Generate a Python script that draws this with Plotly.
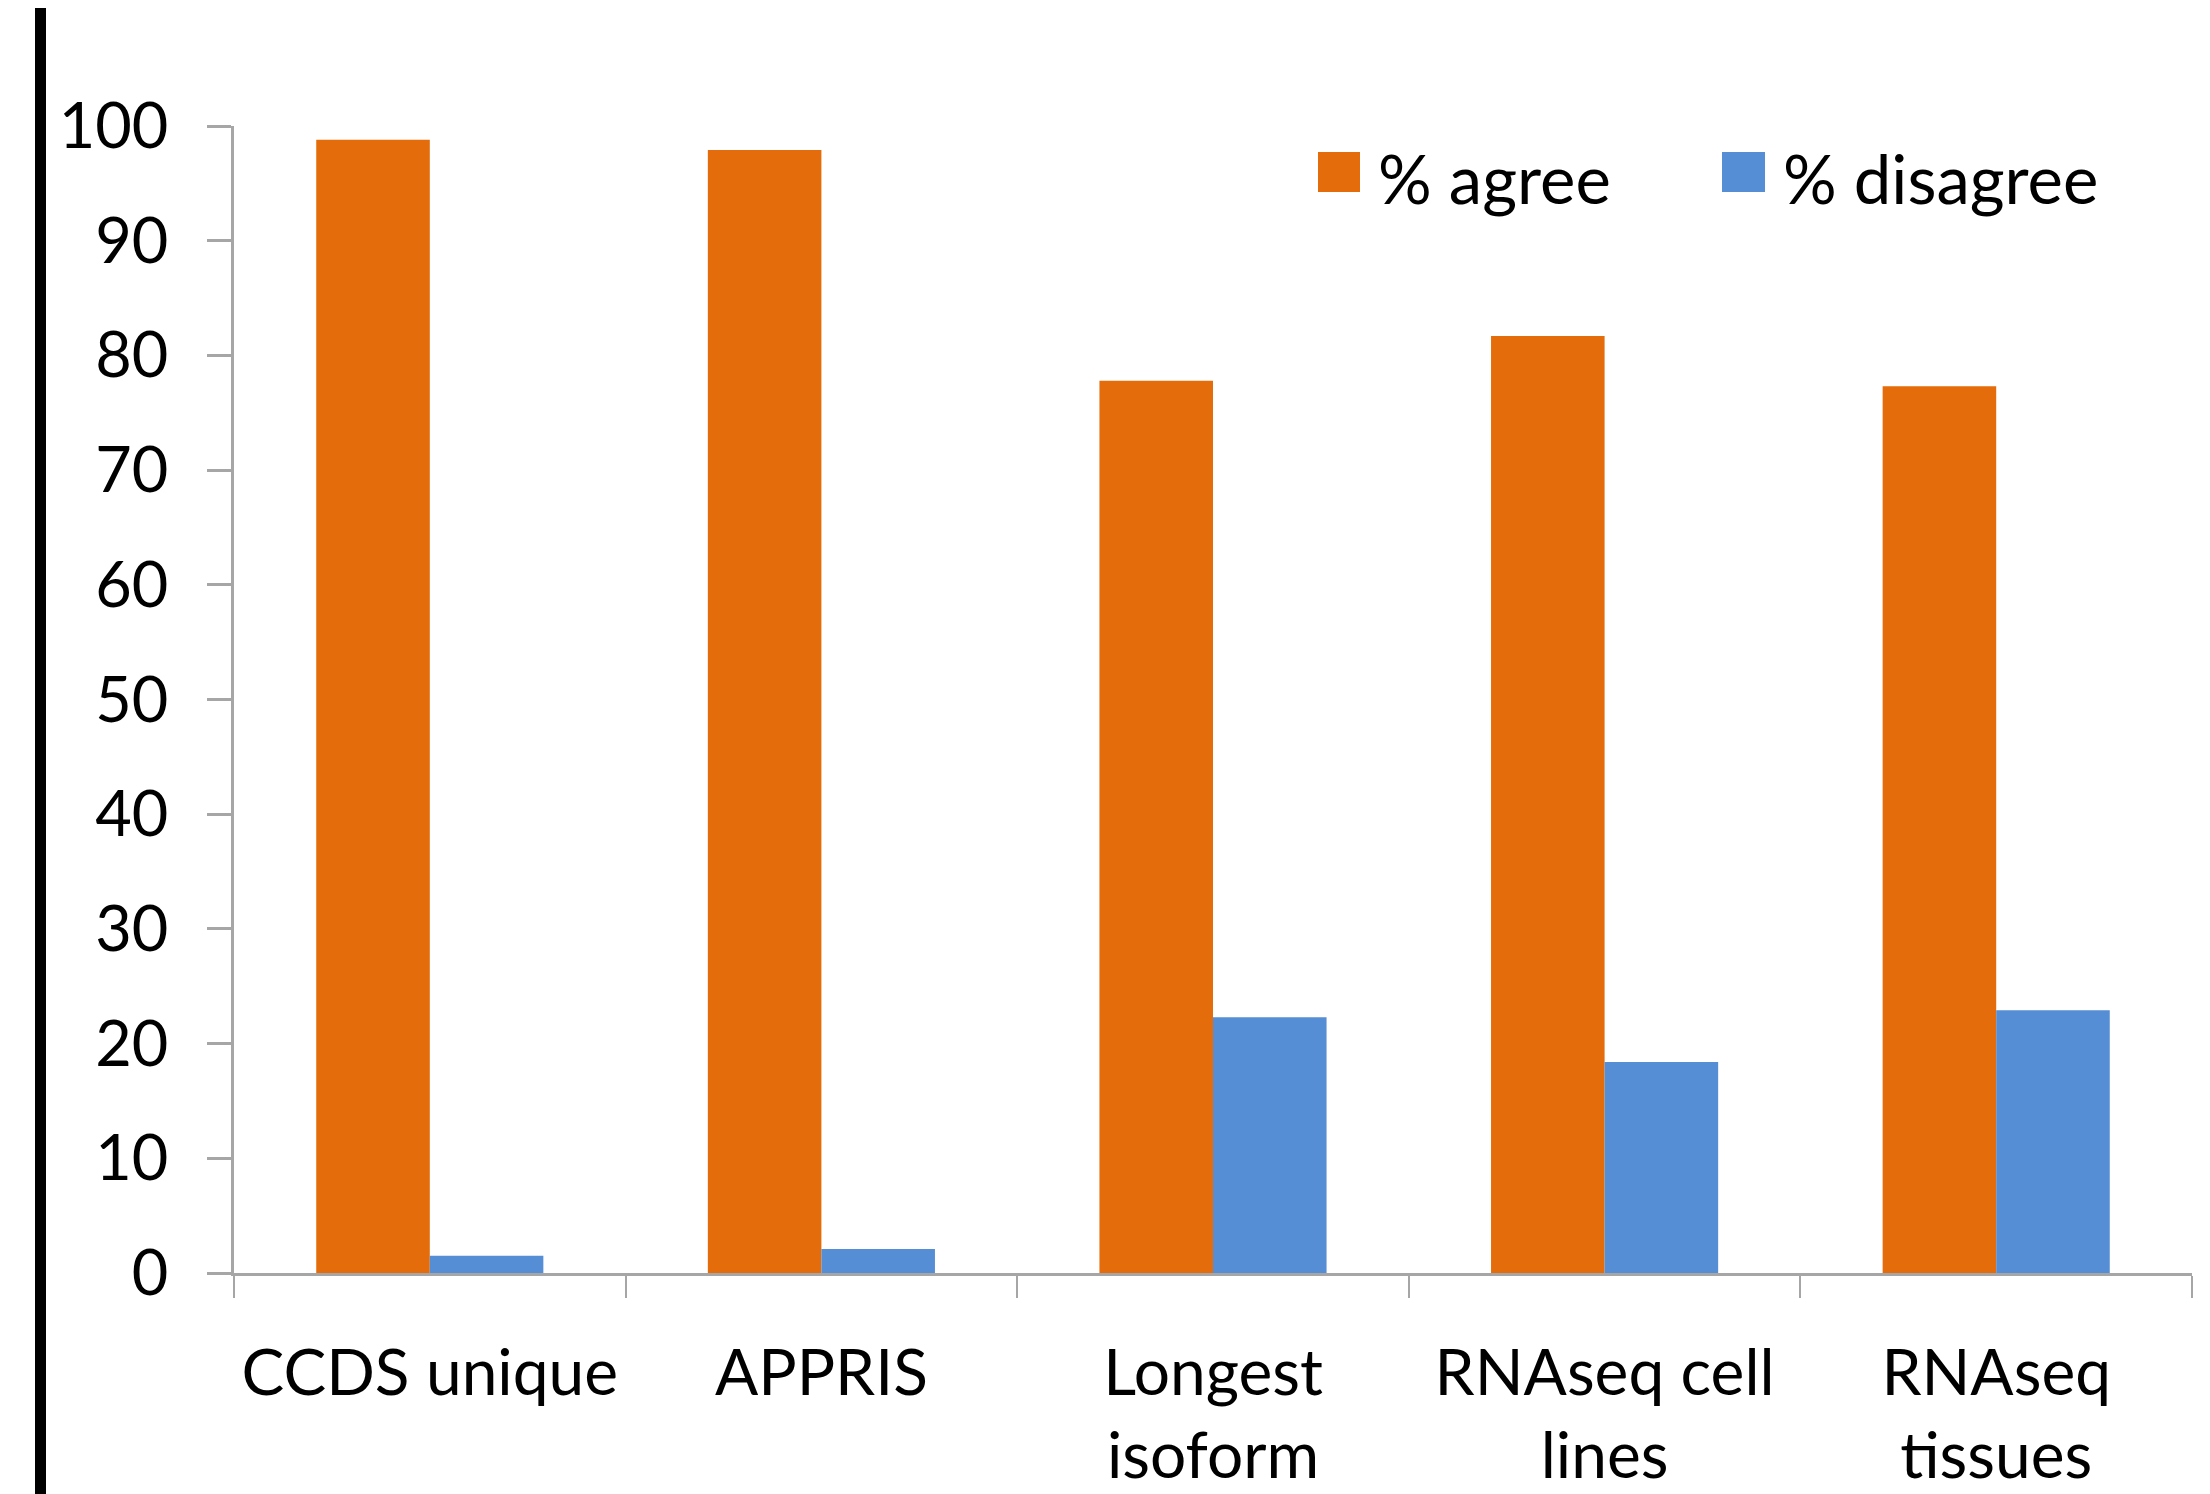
import plotly.graph_objects as go

categories = ["CCDS unique", "APPRIS", "Longest<br>isoform", "RNAseq cell<br>lines", "RNAseq<br>tissues"]
series_names = ["% agree", "% disagree"]
agree = [98.8, 97.9, 77.8, 81.7, 77.3]
disagree = [1.5, 2.1, 22.3, 18.4, 22.9]
colors = ["#E46C0A", "#558ED5"]

W, H = 2210, 1494
OFF = 8  # page body margin
# target plot area in page pixels: x 234..2192, y 126..1273
L, T = 234 - OFF, 126 - OFF
PW, PH = 2192 - 234, 1273 - 126
R, B = W - L - PW, H - T - PH

def px(x):  # page pixel -> paper
    return (x - OFF - L) / PW

def py(y):
    return (T + PH - (y - OFF)) / PH

FONT = "Lato"
AXC = "#A6A6A6"

fig = go.Figure()
for name, vals, c in zip(series_names, [agree, disagree], colors):
    fig.add_trace(go.Bar(x=categories, y=vals, name=name, marker=dict(color=c, line=dict(width=0)),
                         showlegend=False))

fig.update_layout(
    width=W, height=H,
    margin=dict(l=L, r=R, t=T, b=B, pad=0, autoexpand=False),
    paper_bgcolor="white", plot_bgcolor="white",
    barmode="group", bargap=0.42, bargroupgap=0,
    font=dict(family=FONT, size=60, color="black"),
)
fig.update_xaxes(showgrid=False, showline=True, linecolor=AXC, linewidth=3,
                 ticks="outside", ticklen=22, tickwidth=2, tickcolor=AXC,
                 tickson="boundaries", ticklabelstandoff=42, automargin=False,
                 tickfont=dict(family=FONT, size=64, color="black"))
fig.update_yaxes(range=[0, 100], dtick=10, showgrid=False, showline=True, linecolor=AXC, linewidth=3,
                 ticks="outside", ticklen=24, tickwidth=3, tickcolor=AXC, zeroline=False,
                 ticklabelstandoff=26, automargin=False,
                 tickfont=dict(family=FONT, size=63, color="black"))

# left black border bar
fig.add_shape(type="line", xref="paper", yref="paper", x0=px(40.5), x1=px(40.5),
              y0=py(1520), y1=py(-20), line=dict(color="black", width=11))

# manual legend
leg = [(1318, 1360, 1376), (1722, 1765, 1781)]
for (sx0, sx1, tx), name, c in zip(leg, series_names, colors):
    fig.add_shape(type="rect", xref="paper", yref="paper", x0=px(sx0), x1=px(sx1),
                  y0=py(192), y1=py(152), fillcolor=c, line=dict(width=0))
    fig.add_annotation(xref="paper", yref="paper", x=px(tx), y=py(178), text=name,
                       showarrow=False, xanchor="left", yanchor="middle",
                       font=dict(family=FONT, size=67, color="black"))

fig.write_html("out.html")
